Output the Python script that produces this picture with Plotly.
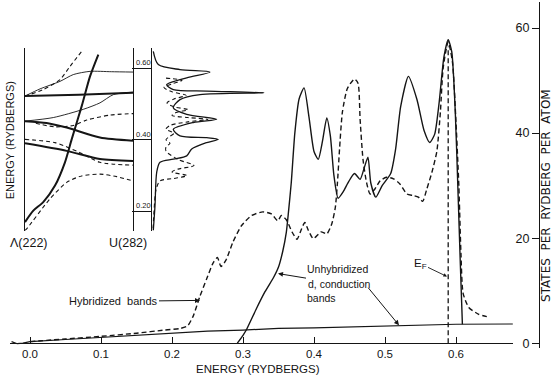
import plotly.graph_objects as go

W, H = 552, 377
FONT = "Liberation Sans, Arial, sans-serif"
INK = "#151515"

# ---------------- main density of states ----------------
E_cond = [-0.026, -0.018, -0.010, 0.0, 0.05, 0.10, 0.15, 0.20, 0.25, 0.30, 0.35, 0.40, 0.45, 0.50, 0.55, 0.60, 0.68]
N_cond = [0.3, -0.1, 0.0, 0.3, 0.7, 1.1, 1.6, 2.0, 2.3, 2.5, 2.8, 2.9, 3.05, 3.2, 3.4, 3.6, 3.65]

E_hyb = [0.000, 0.050, 0.100, 0.150, 0.190, 0.212, 0.222, 0.230, 0.239, 0.249,
         0.258, 0.264, 0.269, 0.276, 0.286, 0.298, 0.312, 0.328, 0.340, 0.349,
         0.354, 0.361, 0.369, 0.376, 0.382, 0.387, 0.392, 0.399, 0.410, 0.418,
         0.425, 0.430, 0.433, 0.436, 0.440, 0.447, 0.457, 0.462, 0.465, 0.469,
         0.474, 0.479, 0.486, 0.493, 0.502, 0.512, 0.521, 0.531, 0.540, 0.547,
         0.553, 0.559, 0.566, 0.573, 0.578, 0.582, 0.589, 0.595, 0.600, 0.604,
         0.607, 0.610, 0.618, 0.632, 0.648]
N_hyb = [0.3, 0.8, 1.3, 1.9, 2.5, 2.8, 3.3, 5.2, 8.8, 12.3,
         15.3, 16.3, 14.6, 15.8, 19.3, 22.4, 24.3, 25.0, 24.6, 23.3,
         24.3, 23.5, 21.2, 19.8, 21.6, 23.0, 21.5, 19.9, 21.2, 20.8,
         22.7, 25.8, 30.5, 37.0, 44.0, 48.5, 50.3, 49.5, 42.5, 35.0,
         30.6, 28.4, 29.4, 30.9, 31.6, 31.3, 30.3, 28.4, 28.1, 27.8,
         27.0, 29.4, 32.5, 36.5, 44.0, 52.5, 57.4, 53.5, 42.0, 30.0,
         17.0, 9.5, 6.8, 5.5, 4.9]

E_unh = [0.292, 0.300, 0.305, 0.319, 0.331, 0.343, 0.350, 0.356, 0.361, 0.364,
         0.368, 0.373, 0.379, 0.386, 0.393, 0.400, 0.406, 0.412, 0.418, 0.423,
         0.428, 0.434, 0.441, 0.449, 0.457, 0.465, 0.471, 0.476, 0.480, 0.487,
         0.496, 0.508, 0.515, 0.522, 0.533, 0.545, 0.555, 0.563, 0.570, 0.576,
         0.583, 0.589, 0.594, 0.599, 0.603, 0.606, 0.609]
N_unh = [0.0, 1.5, 2.6, 6.6, 9.8, 12.5, 14.5, 17.5, 21.1, 24.9,
         30.6, 40.0, 46.5, 48.6, 43.0, 36.5, 35.0, 38.5, 42.9, 39.5,
         32.0, 27.6, 28.8, 30.8, 32.3, 31.2, 33.5, 35.4, 30.5, 27.8,
         30.0, 32.3, 37.0, 45.0, 50.8, 46.4, 40.5, 38.2, 39.8, 45.5,
         54.5, 57.8, 55.5, 44.0, 28.1, 15.5, 3.6]

EF = 0.589
EF_line_N = [0.0, 56.5]

x_ticks = [0.0, 0.1, 0.2, 0.3, 0.4, 0.5, 0.6]
x_tick_text = ["0.0", "0.1", "0.2", "0.3", "0.4", "0.5", "0.6"]
y_ticks = [0, 20, 40, 60]
y_tick_text = ["0", "20", "40", "60"]

# ---------------- inset: bands from Λ(222) to U(282) ----------------
kA = [0.0, 0.077, 0.169, 0.278, 0.370, 0.432, 0.525, 0.602, 0.679]
eA = [0.170, 0.202, 0.226, 0.272, 0.337, 0.401, 0.494, 0.577, 0.638]   # thick, steep
kB = [0.0, 0.169, 0.324, 0.417, 0.525]
eB = [0.522, 0.540, 0.568, 0.605, 0.647]                               # dashed, steep
kC = [0.0, 0.015, 0.231, 0.386, 0.525, 0.694, 0.849, 1.0]
eC = [0.147, 0.151, 0.235, 0.281, 0.299, 0.304, 0.297, 0.285]         # dashed, lowest
kD = [0.0, 0.139, 0.324, 0.447, 0.602, 0.8, 1.0]
eD = [0.522, 0.542, 0.563, 0.582, 0.591, 0.590, 0.589]                 # thin
kE = [0.0, 0.5, 1.0]
eE = [0.522, 0.526, 0.531]                                             # thick, flat
kF = [0.0, 0.262, 0.540, 0.694, 0.818, 1.0]
eF = [0.452, 0.462, 0.485, 0.503, 0.526, 0.533]                        # thin
kG = [0.0, 0.2, 0.386, 0.694, 1.0]
eG = [0.452, 0.447, 0.434, 0.406, 0.397]                               # thick
kHd = [0.1, 0.278, 0.447, 0.571, 0.787, 1.0]
eHd = [0.446, 0.436, 0.440, 0.455, 0.469, 0.473]                       # dashed
kI = [0.0, 0.278, 0.509, 0.694, 1.0]
eI = [0.401, 0.392, 0.364, 0.337, 0.329]                               # dashed
kJ = [0.0, 0.386, 0.694, 1.0]
eJ = [0.390, 0.369, 0.346, 0.341]                                      # thick

# side density of states of the inset
d_solid = [1.3, 6.3, 28, 58, 34.7, 14.7, 21.3, 54.7, 112, 48, 28, 21.3, 34.7, 64.7, 41.3,
           21.3, 28, 54.7, 66.3, 54.7, 39.7, 34.7, 21.3, 8, 4.7, 3, 1.3]
e_solid = [0.647, 0.610, 0.596, 0.589, 0.573, 0.554, 0.540, 0.536, 0.531, 0.526, 0.512,
           0.489, 0.471, 0.457, 0.448, 0.429, 0.411, 0.406, 0.401, 0.392, 0.374, 0.355,
           0.346, 0.337, 0.309, 0.216, 0.147]
d_dash = [14, 30, 20, 12, 20, 34, 22, 15, 22, 36, 24, 20, 36, 56, 36, 18, 14, 22, 18,
          14, 18, 14, 14, 26, 42, 26, 20, 35, 22, 8, 4, 2, 1]
e_dash = [0.572, 0.566, 0.556, 0.546, 0.534, 0.524, 0.514, 0.503, 0.492, 0.484, 0.476,
          0.468, 0.462, 0.457, 0.450, 0.440, 0.430, 0.418, 0.410, 0.400, 0.390, 0.380,
          0.368, 0.345, 0.328, 0.318, 0.310, 0.300, 0.292, 0.285, 0.260, 0.200, 0.147]

scale_E = [0.2, 0.4, 0.6]
scale_text = ["0.20", "0.40", "0.60"]


def PX(x):
    return x / W


def PY(y):
    return 1 - y / H


DASH = "5px,3px"
fig = go.Figure()

# main curves
fig.add_trace(go.Scatter(x=E_cond, y=N_cond, mode="lines", line=dict(color=INK, width=1.2),
                         xaxis="x", yaxis="y", showlegend=False))
fig.add_trace(go.Scatter(x=E_hyb, y=N_hyb, mode="lines",
                         line=dict(color=INK, width=1.4, dash=DASH, shape="spline", smoothing=0.6),
                         xaxis="x", yaxis="y", showlegend=False))
fig.add_trace(go.Scatter(x=E_unh, y=N_unh, mode="lines",
                         line=dict(color=INK, width=1.4, shape="spline", smoothing=0.6),
                         xaxis="x", yaxis="y", showlegend=False))
fig.add_trace(go.Scatter(x=[EF, EF], y=EF_line_N, mode="lines",
                         line=dict(color=INK, width=1.3, dash=DASH),
                         xaxis="x", yaxis="y", showlegend=False))

# inset bands
THICK = dict(color=INK, width=2.0, shape="spline", smoothing=0.7)
THIN = dict(color=INK, width=0.9, shape="spline", smoothing=0.7)
DSH = dict(color=INK, width=1.1, dash="4px,3px", shape="spline", smoothing=0.7)
for kk, ee, st in [(kA, eA, THICK), (kB, eB, DSH), (kC, eC, DSH), (kD, eD, THIN),
                   (kE, eE, THICK), (kF, eF, THIN), (kG, eG, THICK), (kHd, eHd, DSH),
                   (kI, eI, DSH), (kJ, eJ, THICK)]:
    fig.add_trace(go.Scatter(x=kk, y=ee, mode="lines", line=st, xaxis="x2", yaxis="y2",
                             showlegend=False))

fig.add_trace(go.Scatter(x=d_solid, y=e_solid, mode="lines",
                         line=dict(color=INK, width=1.3, shape="spline", smoothing=0.8),
                         xaxis="x3", yaxis="y3", showlegend=False))
fig.add_trace(go.Scatter(x=d_dash, y=e_dash, mode="lines",
                         line=dict(color=INK, width=1.1, dash="4px,3px", shape="spline", smoothing=0.8),
                         xaxis="x3", yaxis="y3", showlegend=False))

# axes ranges from pixel geometry
x0_px, x_per = 30.0, 710.0        # E = 0 at px 30, 710 px per Rydberg
y0_px, y_per = 345.0, 5.28        # N = 0 at px 345
ins_top, ins_bot = 48.0, 232.0
e_of = lambda ypx: 0.6 - (ypx - 68.5) / 360.0

fig.update_layout(
    width=W, height=H, margin=dict(l=0, r=0, t=0, b=0),
    paper_bgcolor="white", plot_bgcolor="rgba(0,0,0,0)",
    font=dict(family=FONT, color=INK, size=12),
    xaxis=dict(domain=[PX(10), PX(513)],
               range=[(10 - x0_px) / x_per, (513 - x0_px) / x_per],
               anchor="free", position=PY(y0_px), side="bottom",
               showline=True, linecolor=INK, linewidth=1.2,
               ticks="inside", ticklen=6, tickcolor=INK, tickwidth=1,
               tickvals=x_ticks, ticktext=x_tick_text, tickfont=dict(size=11.5),
               showgrid=False, zeroline=False),
    yaxis=dict(domain=[PY(350), PY(2)],
               range=[(y0_px - 350) / y_per, (y0_px - 2) / y_per],
               anchor="free", position=PX(539), side="left",
               showline=True, linecolor=INK, linewidth=1.2,
               ticks="outside", ticklen=7, tickcolor=INK, tickwidth=1,
               tickvals=y_ticks, ticktext=y_tick_text, tickfont=dict(size=12.5),
               showgrid=False, zeroline=False),
    xaxis2=dict(domain=[PX(25), PX(133)], range=[0, 1], anchor="y2", visible=False),
    yaxis2=dict(domain=[PY(ins_bot), PY(ins_top)], range=[e_of(ins_bot), e_of(ins_top)],
                anchor="x2", showline=True, mirror=True, linecolor=INK, linewidth=1.2,
                ticks="", showticklabels=False, showgrid=False, zeroline=False),
    xaxis3=dict(domain=[PX(152), PX(272)], range=[0, 120], anchor="y3", visible=False),
    yaxis3=dict(domain=[PY(ins_bot), PY(ins_top)], range=[e_of(ins_bot), e_of(ins_top)],
                anchor="x3", showline=True, linecolor=INK, linewidth=1.2,
                ticks="outside", ticklen=19, tickcolor=INK, tickwidth=1,
                tickvals=scale_E, showticklabels=False, showgrid=False, zeroline=False),
)

ARW = dict(showarrow=True, arrowhead=2, arrowsize=1, arrowwidth=1, arrowcolor=INK, standoff=0)
ann = []
# axis titles
ann.append(dict(text="ENERGY (RYDBERGS)", x=PX(258), y=PY(371), xref="paper", yref="paper",
                showarrow=False, font=dict(size=11.5), xanchor="center", yanchor="middle"))
ann.append(dict(text="STATES\u00a0 PER\u00a0 RYDBERG\u00a0 PER\u00a0 ATOM", x=PX(546), y=PY(197),
                xref="paper", yref="paper", showarrow=False, textangle=-90,
                font=dict(size=12, family="DejaVu Sans"), xanchor="center", yanchor="middle"))
# inset labels
ann.append(dict(text="ENERGY (RYDBERGS)", x=PX(10), y=PY(141), xref="paper", yref="paper",
                showarrow=False, textangle=-90, font=dict(size=11), xanchor="center", yanchor="middle"))
ann.append(dict(text="Λ(222)", x=PX(29), y=PY(244), xref="paper", yref="paper",
                showarrow=False, font=dict(size=12.5), xanchor="center", yanchor="middle"))
ann.append(dict(text="U(282)", x=PX(128), y=PY(244), xref="paper", yref="paper",
                showarrow=False, font=dict(size=12.5), xanchor="center", yanchor="middle"))
for e, t in zip(scale_E, scale_text):
    ann.append(dict(text=t, x=PX(134), y=e, xref="paper", yref="y3", showarrow=False,
                    font=dict(size=7.5), xanchor="left", yanchor="bottom", yshift=-1))
# labels with arrows (arrow head at x, y; text centred at offset ax, ay)
ann.append(dict(text="Hybridized\u00a0 bands", x=PX(200), y=PY(302), xref="paper", yref="paper",
                ax=-87, ay=1, font=dict(size=11), **ARW))
ann.append(dict(text="Unhybridized", x=PX(305), y=PY(270), xref="paper", yref="paper",
                showarrow=False, font=dict(size=10.5), xanchor="left", yanchor="middle"))
ann.append(dict(text="d, conduction", x=PX(278), y=PY(275), xref="paper", yref="paper",
                ax=61, ay=10, font=dict(size=10.5), **ARW))
ann.append(dict(text="bands", x=PX(305), y=PY(300), xref="paper", yref="paper",
                showarrow=False, font=dict(size=10.5), xanchor="left", yanchor="middle"))
ann.append(dict(text="", x=PX(399), y=PY(327), xref="paper", yref="paper",
                ax=-32, ay=-39, **ARW))
ann.append(dict(text="E<sub>F</sub>", x=PX(447), y=PY(278), xref="paper", yref="paper",
                ax=-27, ay=-13, font=dict(size=11.5),
                showarrow=True, arrowhead=2, arrowsize=0.8, arrowwidth=0.9, arrowcolor=INK, standoff=0))
fig.update_layout(annotations=ann)

fig.write_html("out.html", config={"displayModeBar": False},
               post_script="document.body.style.margin='0';document.body.style.padding='0';")
